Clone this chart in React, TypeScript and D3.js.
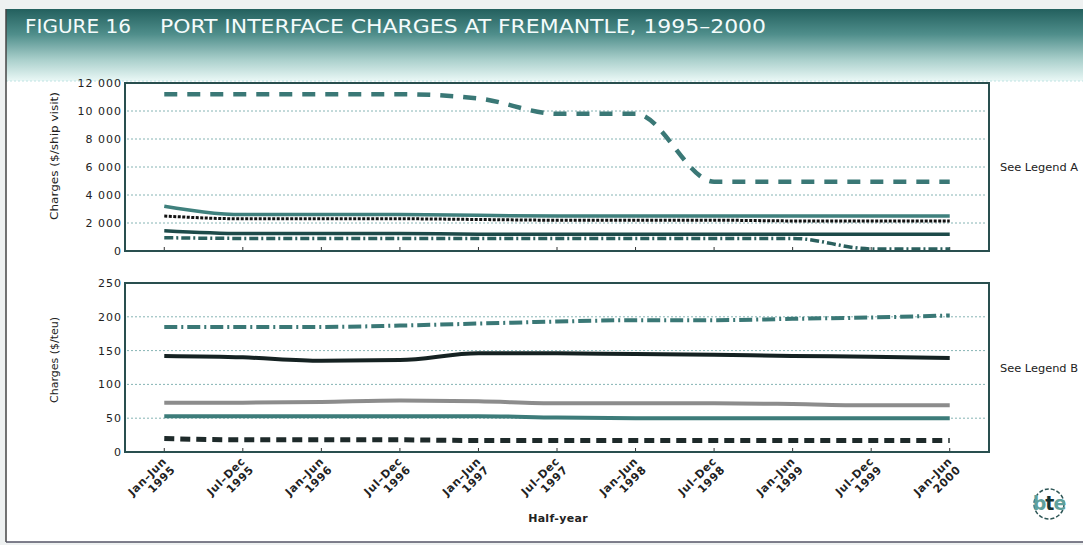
import React from "react";
import * as d3 from "d3";

const categories = [
  "Jan–Jun|1995", "Jul–Dec|1995", "Jan–Jun|1996", "Jul–Dec|1996", "Jan–Jun|1997",
  "Jul–Dec|1997", "Jan–Jun|1998", "Jul–Dec|1998", "Jan–Jun|1999", "Jul–Dec|1999", "Jan–Jun|2000",
];

// Panel A ($/ship visit)
const a1 = [11200, 11200, 11200, 11200, 10900, 9800, 9800, 4950, 4950, 4950, 4950];
const a2 = [3200, 2600, 2600, 2600, 2550, 2500, 2500, 2500, 2500, 2500, 2500];
const a3 = [2500, 2300, 2300, 2300, 2250, 2200, 2200, 2200, 2150, 2150, 2150];
const a4 = [1450, 1250, 1250, 1250, 1200, 1200, 1200, 1200, 1200, 1200, 1200];
const a5 = [950, 900, 900, 900, 900, 900, 900, 900, 900, 150, 150];
const ticksA = [0, 2000, 4000, 6000, 8000, 10000, 12000];

// Panel B ($/teu)
const b1 = [185, 185, 185, 187, 190, 193, 195, 195, 197, 199, 202];
const b2 = [142, 140, 135, 136, 146, 146, 145, 144, 142, 141, 139];
const b3 = [73, 73, 74, 76, 75, 72, 72, 72, 71, 69, 69];
const b4 = [53, 53, 53, 53, 53, 51, 50, 50, 50, 50, 50];
const b5 = [20, 18, 18, 18, 17, 17, 17, 17, 17, 17, 17];
const ticksB = [0, 50, 100, 150, 200, 250];

const fmt = (v: number) => (v >= 1000 ? `${Math.floor(v / 1000)} ${String(v % 1000).padStart(3, "0")}` : String(v));

const FONT = "'DejaVu Sans', sans-serif";
const X0 = 125, X1 = 989;
const x = d3.scalePoint<string>().domain(categories).range([X0, X1]).padding(0.5);
const yA = d3.scaleLinear().domain([0, 12000]).range([251, 83]);
const yB = d3.scaleLinear().domain([0, 250]).range([452, 283]);

type S = { data: number[]; stroke: string; width: number; dash?: string };

const seriesA: S[] = [
  { data: a5, stroke: "#2b605e", width: 3.5, dash: "9,3,2,3" },
  { data: a4, stroke: "#1d4a49", width: 3.5 },
  { data: a2, stroke: "#3f807d", width: 3.5 },
  { data: a3, stroke: "#111", width: 3, dash: "3,1.5" },
  { data: a1, stroke: "#3a7876", width: 4.5, dash: "13,10" },
];
const seriesB: S[] = [
  { data: b5, stroke: "#1e2a2a", width: 5, dash: "10,6" },
  { data: b4, stroke: "#3d7c7a", width: 4 },
  { data: b3, stroke: "#8c8c8c", width: 4 },
  { data: b2, stroke: "#152222", width: 4 },
  { data: b1, stroke: "#3a7876", width: 4, dash: "13,4,2,4" },
];

function Panel({ y, ticks, series, label, labelLen, labelY, legend, top, bottom }: any) {
  const line = d3
    .line<number>()
    .x((_, i) => x(categories[i]) as number)
    .y((d) => y(d))
    .curve(d3.curveMonotoneX);
  const midY = (top + bottom) / 2;
  return (
    <g>
      {ticks.slice(1, -1).map((t: number) => (
        <line key={t} x1={X0 + 2} x2={X1 - 4} y1={y(t)} y2={y(t)} stroke="#86b4b4" strokeWidth={1} strokeDasharray="2,2" />
      ))}
      {categories.map((c) => (
        <line key={c} x1={x(c)} x2={x(c)} y1={bottom} y2={bottom - 4} stroke="#333" strokeWidth={1} />
      ))}
      {series.map((s: S, i: number) => (
        <path key={i} d={line(s.data) as string} fill="none" stroke={s.stroke} strokeWidth={s.width} strokeDasharray={s.dash} />
      ))}
      <rect x={X0} y={top} width={X1 - X0} height={bottom - top} fill="none" stroke="#294f4f" strokeWidth={2} />
      {ticks.map((t: number) => (
        <text key={t} x={X0 - 3} y={y(t) + 4} textAnchor="end" fontSize={11} fill="#222" fontFamily={FONT} letterSpacing={1}>
          {fmt(t)}
        </text>
      ))}
      <text transform={`translate(58,${labelY}) rotate(-90)`} textAnchor="middle" fontSize={11} fill="#222" fontFamily={FONT} textLength={labelLen} lengthAdjust="spacingAndGlyphs">
        {label}
      </text>
      <text x={1000} y={midY + 4} fontSize={10} fill="#222" fontFamily={FONT} textLength={78} lengthAdjust="spacingAndGlyphs">
        {legend}
      </text>
    </g>
  );
}

export default function App() {
  return (
    <div style={{ position: "absolute", left: 0, top: 0 }}>
      <svg width={1083} height={545} style={{ display: "block" }}>
        <defs>
          <linearGradient id="ban" x1="0" y1="0" x2="0" y2="1">
            <stop offset="0" stopColor="#23605e" />
            <stop offset="0.35" stopColor="#4f8e8b" />
            <stop offset="0.7" stopColor="#a9cfcb" />
            <stop offset="1" stopColor="#eaf8f6" />
          </linearGradient>
        </defs>
        <rect x={0} y={0} width={1083} height={545} fill="#eef1f1" />
        <rect x={6} y={9} width={1077} height={533} fill="#fff" />
        <rect x={6} y={9} width={1077} height={72} fill="url(#ban)" />
        <line x1={6} x2={1083} y1={81} y2={81} stroke="#bfe3e3" strokeWidth={1} strokeDasharray="2,2" />
        <line x1={6} x2={6} y1={9} y2={542} stroke="#444" strokeWidth={1.5} />
        <line x1={6} x2={1083} y1={542} y2={542} stroke="#556" strokeWidth={1.5} />
        <text x={25} y={33} fontSize={20} fill="#f4fbfb" fontFamily="'DejaVu Sans Condensed', sans-serif" textLength={106} lengthAdjust="spacingAndGlyphs">
          FIGURE 16
        </text>
        <text x={160} y={33} fontSize={20} fill="#f4fbfb" fontFamily="'DejaVu Sans Condensed', sans-serif" textLength={606} lengthAdjust="spacingAndGlyphs">
          PORT INTERFACE CHARGES AT FREMANTLE, 1995–2000
        </text>

        <Panel y={yA} ticks={ticksA} series={seriesA} label="Charges ($/ship visit)" labelLen={128} labelY={156} legend="See Legend A" top={83} bottom={251} />
        <Panel y={yB} ticks={ticksB} series={seriesB} label="Charges ($/teu)" labelLen={86} labelY={360} legend="See Legend B" top={283} bottom={452} />

        {categories.map((c) => {
          const [l1, l2] = c.split("|");
          const cx = x(c) as number;
          return (
            <text key={c} transform={`translate(${cx + 3},${462}) rotate(-45)`} textAnchor="end" fontSize={11} fontWeight="bold" fill="#222" fontFamily={FONT} letterSpacing={0.6}>
              <tspan x={0} dy={0}>{l1}</tspan>
              <tspan x={0} dy={12}>{l2}</tspan>
            </text>
          );
        })}
        <text x={558} y={522} textAnchor="middle" fontSize={11} fontWeight="bold" fill="#222" fontFamily={FONT} letterSpacing={0.3}>
          Half-year
        </text>

        <g transform="translate(1049,504)">
          <circle r={15} fill="none" stroke="#2d5555" strokeWidth={1.5} strokeDasharray="4,2" />
          <text x={0} y={6} textAnchor="middle" fontSize={19} fontWeight="bold" fontFamily={FONT} letterSpacing={-1}>
            <tspan fill="#5fa09c">b</tspan>
            <tspan fill="#153333">t</tspan>
            <tspan fill="#5fa09c">e</tspan>
          </text>
        </g>
      </svg>
    </div>
  );
}
